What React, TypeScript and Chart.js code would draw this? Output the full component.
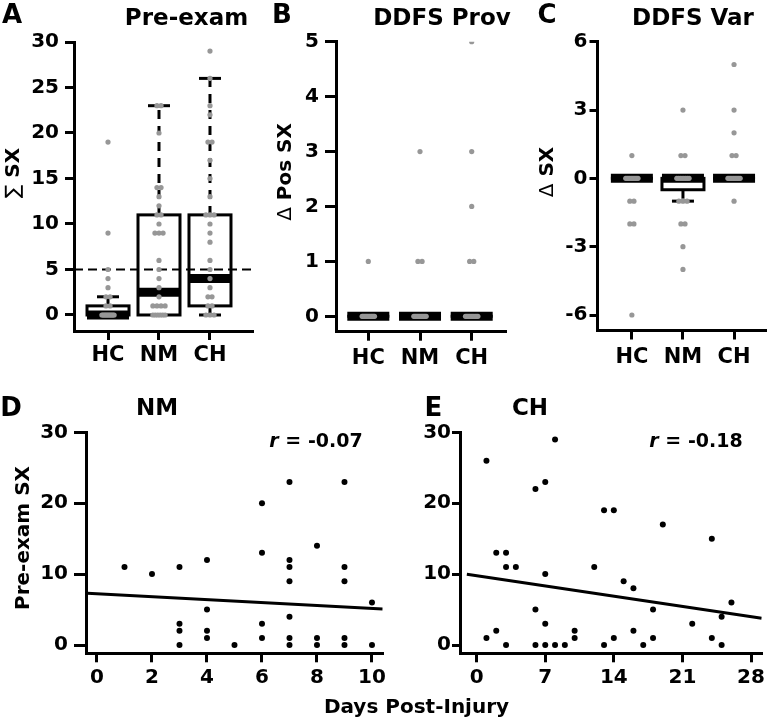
import React, { useEffect, useRef } from "react";
import { Chart, registerables } from "chart.js";

Chart.register(...registerables);

const W = 771;
const H = 721;
const FONT = "'DejaVu Sans', 'Liberation Sans', sans-serif";
const GRAY = "#979797";

// ---------------- data ----------------
const groups = ["HC", "NM", "CH"];

// A: Pre-exam symptom totals
const preHC = [19, 9, 5, 4, 3, 2, 2, 1, 1, 0, 0, 0, 0, 0, 0, 0, 0, 0, 0, 0, 0];
const preNM = [23, 23, 20, 14, 14, 13, 12, 11, 11, 10, 9, 9, 9, 6, 5, 4, 3, 2, 1, 1, 1, 1, 0, 0, 0, 0, 0, 0];
const preCH = [29, 26, 23, 22, 19, 19, 17, 15, 13, 11, 11, 11, 10, 9, 8, 6, 5, 4, 3, 2, 2, 1, 1, 0, 0, 0];
// [lower whisker, Q1, median, Q3, upper whisker]
const preBoxHC = [0, 0, 0, 1, 2];
const preBoxNM = [0, 0, 2.5, 11, 23];
const preBoxCH = [0, 1, 4, 11, 26];
const preTicks = [0, 5, 10, 15, 20, 25, 30];
const preCutoff = 5;

// B: DDFS provocation change in positive symptoms
const provHC = [1, 0, 0, 0, 0, 0, 0, 0, 0, 0, 0, 0, 0, 0, 0];
const provNM = [3, 1, 1, 0, 0, 0, 0, 0, 0, 0, 0, 0, 0, 0, 0];
const provCH = [5, 3, 2, 1, 1, 0, 0, 0, 0, 0, 0, 0, 0, 0, 0, 0, 0];
const provBoxHC = [0, 0, 0, 0, 0];
const provBoxNM = [0, 0, 0, 0, 0];
const provBoxCH = [0, 0, 0, 0, 0];
const provTicks = [0, 1, 2, 3, 4, 5];

// C: DDFS variation in symptoms
const varHC = [1, 0, 0, 0, 0, 0, 0, 0, 0, 0, 0, -1, -1, -2, -2, -6];
const varNM = [3, 1, 1, 0, 0, 0, 0, 0, 0, 0, 0, -1, -1, -1, -2, -2, -3, -4];
const varCH = [5, 3, 2, 1, 1, 0, 0, 0, 0, 0, 0, 0, 0, 0, 0, -1];
const varBoxHC = [0, 0, 0, 0, 0];
const varBoxNM = [-1, -0.5, 0, 0, 0];
const varBoxCH = [0, 0, 0, 0, 0];
const varTicks = [-6, -3, 0, 3, 6];

// D: NM, pre-exam SX vs days post-injury
const nmDays = [1, 2, 3, 3, 3, 3, 4, 4, 4, 4, 5, 6, 6, 6, 6, 7, 7, 7, 7, 7, 7, 7, 8, 8, 8, 9, 9, 9, 9, 9, 10, 10];
const nmSx = [11, 10, 11, 3, 2, 0, 12, 5, 2, 1, 0, 20, 13, 3, 1, 23, 12, 11, 9, 4, 1, 0, 14, 1, 0, 23, 11, 9, 1, 0, 6, 0];
const nmFit = [7.22, -0.206]; // intercept, slope
const nmFitRange = [-0.35, 10.39];
const nmDayTicks = [0, 2, 4, 6, 8, 10];
const nmR = "-0.07";

// E: CH, pre-exam SX vs days post-injury
const chDays = [1, 1, 2, 2, 3, 3, 3, 4, 6, 6, 6, 7, 7, 7, 7, 8, 8, 9, 10, 10, 12, 13, 13, 14, 14, 15, 16, 16, 17, 18, 18, 19, 22, 24, 24, 25, 25, 26];
const chSx = [26, 1, 13, 2, 13, 11, 0, 11, 22, 5, 0, 23, 10, 3, 0, 29, 0, 0, 2, 1, 11, 19, 0, 19, 1, 9, 8, 2, 0, 5, 1, 17, 3, 15, 1, 4, 0, 6];
const chFit = [9.76, -0.206];
const chFitRange = [-1.0, 29.09];
const chDayTicks = [0, 7, 14, 21, 28];
const chR = "-0.18";

const sxTicks = [0, 10, 20, 30];

// ---------------- helpers ----------------
function jitter(values: number[], center: number) {
  const counts = new Map<number, number>();
  const seen = new Map<number, number>();
  values.forEach((v) => counts.set(v, (counts.get(v) || 0) + 1));
  return values.map((v) => {
    const n = counts.get(v) as number;
    const k = seen.get(v) || 0;
    seen.set(v, k + 1);
    const step = n > 1 ? Math.min(0.08, 0.24 / (n - 1)) : 0;
    return { x: center + (k - (n - 1) / 2) * step, y: v };
  });
}

type Area = { left: number; right: number; top: number; bottom: number };

function axisOpts(min: number, max: number, ticks: number[], tl: number, pad: number, size: number, fitKey: "width" | "height", cb?: (v: number) => string) {
  return {
    type: "linear",
    min,
    max,
    bounds: "data",
    afterFit: (s: any) => {
      s[fitKey] = 50;
    },
    afterBuildTicks: (s: any) => {
      s.ticks = ticks.map((v) => ({ value: v }));
    },
    ticks: {
      autoSkip: false,
      maxRotation: 0,
      minRotation: 0,
      padding: pad,
      color: "#000",
      font: { family: FONT, size, weight: "bold" },
      callback: cb ? (v: any) => cb(Number(v)) : (v: any) => String(v),
    },
    grid: {
      drawOnChartArea: false,
      drawTicks: true,
      tickLength: tl,
      color: "#000",
      lineWidth: 3,
    },
    border: { display: true, color: "#000", width: 3 },
  };
}

function layoutPad(a: Area) {
  return { left: a.left - 50, top: a.top, right: W - a.right, bottom: H - a.bottom - 50 };
}

const boxPlugin = {
  id: "boxes",
  beforeDatasetsDraw(chart: any, _args: any, opts: any) {
    const { ctx, scales, chartArea } = chart;
    const x = scales.x;
    const y = scales.y;
    const half = 21;
    const cap = 11;
    ctx.save();
    ctx.strokeStyle = "#000";
    ctx.lineCap = "butt";
    const line = (x0: number, y0: number, x1: number, y1: number) => {
      ctx.beginPath();
      ctx.moveTo(x0, y0);
      ctx.lineTo(x1, y1);
      ctx.stroke();
    };
    (opts.stats as number[][]).forEach((s, i) => {
      const cx = x.getPixelForValue(i + 1);
      const [lo, q1, med, q3, hi] = s;
      ctx.lineWidth = 3;
      ctx.setLineDash([9, 7]);
      if (hi > q3) line(cx, y.getPixelForValue(q3), cx, y.getPixelForValue(hi));
      if (lo < q1) line(cx, y.getPixelForValue(q1), cx, y.getPixelForValue(lo));
      ctx.setLineDash([]);
      if (hi > q3) line(cx - cap, y.getPixelForValue(hi), cx + cap, y.getPixelForValue(hi));
      if (lo < q1) line(cx - cap, y.getPixelForValue(lo), cx + cap, y.getPixelForValue(lo));
      const yt = y.getPixelForValue(q3);
      const yb = y.getPixelForValue(q1);
      ctx.fillStyle = "#fff";
      if (yb - yt > 0) ctx.fillRect(cx - half, yt, 2 * half, yb - yt);
      ctx.strokeRect(cx - half, yt, 2 * half, yb - yt);
      ctx.lineWidth = 9;
      line(cx - half, y.getPixelForValue(med), cx + half, y.getPixelForValue(med));
    });
    if (opts.ref !== undefined) {
      ctx.lineWidth = 2;
      ctx.setLineDash([9, 5]);
      const yy = y.getPixelForValue(opts.ref);
      line(chartArea.left, yy, chartArea.right, yy);
      ctx.setLineDash([]);
    }
    ctx.restore();
  },
};

type Seg = { t: string; w?: string };
type TextItem = { segs: Seg[]; x: number; y: number; size: number; rot?: boolean };

const texts: TextItem[] = [
  { segs: [{ t: "A" }], x: 12, y: 14, size: 26 },
  { segs: [{ t: "Pre-exam" }], x: 186.5, y: 16.7, size: 23 },
  { segs: [{ t: "B" }], x: 282, y: 14, size: 26 },
  { segs: [{ t: "DDFS Prov" }], x: 442, y: 16.7, size: 23 },
  { segs: [{ t: "C" }], x: 547, y: 14, size: 26 },
  { segs: [{ t: "DDFS Var" }], x: 693, y: 16.7, size: 23 },
  { segs: [{ t: "\u2211", w: "normal" }, { t: " SX" }], x: 12, y: 173, size: 20, rot: true },
  { segs: [{ t: "\u0394", w: "normal" }, { t: " Pos SX" }], x: 284, y: 172, size: 20, rot: true },
  { segs: [{ t: "\u0394", w: "normal" }, { t: " SX" }], x: 545.5, y: 172, size: 20, rot: true },
  { segs: [{ t: "D" }], x: 11, y: 407, size: 26 },
  { segs: [{ t: "NM" }], x: 157, y: 407, size: 23 },
  { segs: [{ t: "E" }], x: 433.5, y: 407, size: 26 },
  { segs: [{ t: "CH" }], x: 530, y: 407, size: 23 },
  { segs: [{ t: "Pre-exam SX" }], x: 22, y: 538, size: 20, rot: true },
  { segs: [{ t: "r", w: "italic bold" }, { t: " = " + nmR }], x: 316, y: 440.5, size: 19 },
  { segs: [{ t: "r", w: "italic bold" }, { t: " = " + chR }], x: 696, y: 440.5, size: 19 },
  { segs: [{ t: "Days Post-Injury" }], x: 416.5, y: 705.5, size: 20 },
];

const textPlugin = {
  id: "texts",
  afterDraw(chart: any) {
    const ctx = chart.ctx;
    texts.forEach((it) => {
      ctx.save();
      ctx.translate(it.x, it.y);
      if (it.rot) ctx.rotate(-Math.PI / 2);
      const fonts = it.segs.map((s) => `${s.w || "bold"} ${it.size}px ${FONT}`);
      let total = 0;
      const widths = it.segs.map((s, i) => {
        ctx.font = fonts[i];
        const w = ctx.measureText(s.t).width;
        total += w;
        return w;
      });
      let xx = -total / 2;
      ctx.textAlign = "left";
      ctx.textBaseline = "alphabetic";
      ctx.fillStyle = "#000";
      const base = (it.size * 0.729) / 2;
      it.segs.forEach((s, i) => {
        ctx.font = fonts[i];
        ctx.fillText(s.t, xx, base);
        xx += widths[i];
      });
      ctx.restore();
    });
  },
};

type BoxPanel = {
  area: Area;
  xr: [number, number];
  yr: [number, number];
  yTicks: number[];
  yTl: number;
  yPad: number;
  xPad: number;
  series: number[][];
  stats: number[][];
  ref?: number;
};

function boxConfig(p: BoxPanel, withTexts: boolean): any {
  const pts = p.series.flatMap((vals, gi) => jitter(vals, gi + 1));
  return {
    type: "scatter",
    data: {
      datasets: [
        {
          data: pts,
          pointRadius: 2.6,
          pointHoverRadius: 2.6,
          backgroundColor: GRAY,
          borderWidth: 0,
        },
      ],
    },
    options: {
      responsive: false,
      animation: false,
      events: [],
      layout: { padding: layoutPad(p.area) },
      plugins: {
        legend: { display: false },
        tooltip: { enabled: false },
        boxes: { stats: p.stats, ref: p.ref },
      },
      scales: {
        x: axisOpts(p.xr[0], p.xr[1], [1, 2, 3], 9, p.xPad, 21, "height", (v) => groups[Math.round(v) - 1] || ""),
        y: axisOpts(p.yr[0], p.yr[1], p.yTicks, p.yTl, p.yPad, 20, "width"),
      },
    },
    plugins: withTexts ? [boxPlugin, textPlugin] : [boxPlugin],
  };
}

type ScatterPanel = {
  area: Area;
  xr: [number, number];
  yr: [number, number];
  xTicks: number[];
  yTl: number;
  yPad: number;
  days: number[];
  sx: number[];
  fit: number[];
  fitRange: number[];
};

function scatterConfig(p: ScatterPanel): any {
  const [a, b] = p.fit;
  return {
    type: "scatter",
    data: {
      datasets: [
        {
          type: "scatter",
          data: p.days.map((d, i) => ({ x: d, y: p.sx[i] })),
          pointRadius: 3,
          pointHoverRadius: 3,
          backgroundColor: "#000",
          borderWidth: 0,
        },
        {
          type: "line",
          data: p.fitRange.map((x) => ({ x, y: a + b * x })),
          borderColor: "#000",
          borderWidth: 3,
          pointRadius: 0,
          fill: false,
          tension: 0,
        },
      ],
    },
    options: {
      responsive: false,
      animation: false,
      events: [],
      layout: { padding: layoutPad(p.area) },
      plugins: { legend: { display: false }, tooltip: { enabled: false } },
      scales: {
        x: axisOpts(p.xr[0], p.xr[1], p.xTicks, 9, 3, 20, "height"),
        y: axisOpts(p.yr[0], p.yr[1], sxTicks, p.yTl, p.yPad, 20, "width"),
      },
    },
  };
}

const panelA: BoxPanel = {
  area: { left: 74, right: 252, top: 42, bottom: 331 },
  xr: [0.333, 3.824],
  yr: [-1.76, 30],
  yTicks: preTicks,
  yTl: 9,
  yPad: 6,
  xPad: 3,
  series: [preHC, preNM, preCH],
  stats: [preBoxHC, preBoxNM, preBoxCH],
  ref: preCutoff,
};
const panelB: BoxPanel = {
  area: { left: 336, right: 505, top: 41.7, bottom: 331.7 },
  xr: [0.375, 3.644],
  yr: [-0.28, 5],
  yTicks: provTicks,
  yTl: 11,
  yPad: 6,
  xPad: 5,
  series: [provHC, provNM, provCH],
  stats: [provBoxHC, provBoxNM, provBoxCH],
};
const panelC: BoxPanel = {
  area: { left: 597.5, right: 765, top: 41.7, bottom: 330.5 },
  xr: [0.327, 3.606],
  yr: [-6.68, 6],
  yTicks: varTicks,
  yTl: 8,
  yPad: 2,
  xPad: 5,
  series: [varHC, varNM, varCH],
  stats: [varBoxHC, varBoxNM, varBoxCH],
};
const panelD: ScatterPanel = {
  area: { left: 86, right: 382.7, top: 432.3, bottom: 653.3 },
  xr: [-0.4, 10.39],
  yr: [-1.17, 30],
  xTicks: nmDayTicks,
  yTl: 12,
  yPad: 6,
  days: nmDays,
  sx: nmSx,
  fit: nmFit,
  fitRange: nmFitRange,
};
const panelE: ScatterPanel = {
  area: { left: 460, right: 761.7, top: 432.3, bottom: 653.3 },
  xr: [-1.7, 29.09],
  yr: [-1.17, 30],
  xTicks: chDayTicks,
  yTl: 8,
  yPad: 1,
  days: chDays,
  sx: chSx,
  fit: chFit,
  fitRange: chFitRange,
};

export default function App() {
  const refs = [useRef<HTMLCanvasElement>(null), useRef<HTMLCanvasElement>(null), useRef<HTMLCanvasElement>(null), useRef<HTMLCanvasElement>(null), useRef<HTMLCanvasElement>(null)];
  useEffect(() => {
    const configs = [boxConfig(panelA, true), boxConfig(panelB, false), boxConfig(panelC, false), scatterConfig(panelD), scatterConfig(panelE)];
    const charts = configs.map((cfg, i) => new Chart(refs[i].current as HTMLCanvasElement, cfg));
    return () => charts.forEach((c) => c.destroy());
  }, []);
  return (
    <div style={{ position: "absolute", left: 0, top: 0, width: W, height: H, background: "#fff" }}>
      {refs.map((r, i) => (
        <canvas key={i} ref={r} width={W} height={H} style={{ position: "absolute", left: 0, top: 0, width: W, height: H }} />
      ))}
    </div>
  );
}
